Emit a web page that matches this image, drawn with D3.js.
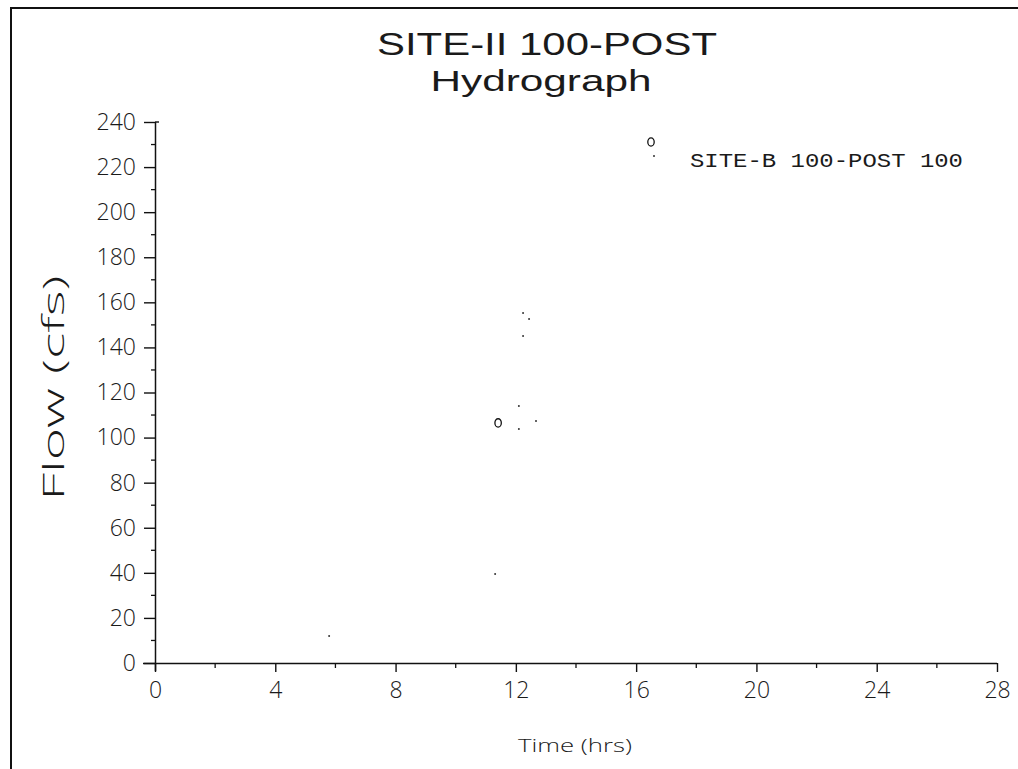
<!DOCTYPE html>
<html>
<head>
<meta charset="utf-8">
<script src="https://cdn.jsdelivr.net/npm/d3@7"></script>
<style>
  html, body { margin: 0; padding: 0; background: #fff; }
  svg { display: block; }
  text { fill: #1a1a1a; }
</style>
</head>
<body>
<svg id="chart" width="1018" height="769"></svg>
<script>
// Hydrograph series: surviving plotted points (time in hours, flow in cfs)
const seriesTime = [5.79, 11.31, 12.10, 12.10, 12.24, 12.24, 12.44, 12.67];
const seriesFlow = [12.0, 39.5, 103.8, 114.0, 145.1, 155.3, 152.6, 107.4];
// Symbol markers placed along the series
const markerTime = [11.41];
const markerFlow = [106.5];

const xTicks = [0, 4, 8, 12, 16, 20, 24, 28];
const xMinor = [2, 6, 10, 14, 18, 22, 26];
const yTicks = [0, 20, 40, 60, 80, 100, 120, 140, 160, 180, 200, 220, 240];
const yMinor = [10, 30, 50, 70, 90, 110, 130, 150, 170, 190, 210, 230];

const titleLines = ["SITE-II 100-POST", "Hydrograph"];
const xTitle = "Time (hrs)";
const yTitle = "Flow (cfs)";
const legendLabel = "SITE-B 100-POST 100";

const svg = d3.select("#chart");
const ink = "#111";

const x = d3.scaleLinear().domain([0, 28]).range([155, 997]);
const y = d3.scaleLinear().domain([0, 240]).range([663, 122]);

// page frame
svg.append("path")
  .attr("d", "M11,769 L11,8 L1018,8")
  .attr("fill", "none").attr("stroke", ink).attr("stroke-width", 2);

// titles
const tfont = "'Liberation Sans Narrow', 'Liberation Sans', Arial, sans-serif";
svg.append("text").attr("x", 547).attr("y", 55)
  .attr("text-anchor", "middle").attr("font-family", tfont).attr("font-size", 32)
  .attr("textLength", 340).attr("lengthAdjust", "spacingAndGlyphs")
  .text(titleLines[0]);
svg.append("text").attr("x", 541).attr("y", 91)
  .attr("text-anchor", "middle").attr("font-family", tfont).attr("font-size", 30)
  .attr("textLength", 221).attr("lengthAdjust", "spacingAndGlyphs")
  .text(titleLines[1]);

const lfont = "'Open Sans', 'DejaVu Sans', sans-serif";
const labelFill = "#333";

// x axis
const xAxis = svg.append("g").attr("transform", `translate(0,${y(0)})`)
  .call(d3.axisBottom(x).tickValues(xTicks).tickSize(9).tickPadding(9).tickSizeOuter(0));
xAxis.select(".domain").attr("stroke", ink).attr("stroke-width", 1.5)
  .attr("d", `M${x(0) - 12},0.5H${x(28)}`);
xAxis.selectAll(".tick line").attr("stroke", ink).attr("stroke-width", 1.4);
xAxis.selectAll(".tick text").attr("font-family", lfont).attr("font-weight", 300)
  .attr("font-size", 23).attr("fill", labelFill).attr("dy", "0.72em");
xAxis.selectAll(".minor").data(xMinor).enter().append("line")
  .attr("x1", d => x(d)).attr("x2", d => x(d)).attr("y1", 0).attr("y2", 5)
  .attr("stroke", ink).attr("stroke-width", 1.3);

// y axis
const yAxis = svg.append("g").attr("transform", `translate(${x(0)},0)`)
  .call(d3.axisLeft(y).tickValues(yTicks).tickSize(11).tickPadding(8).tickSizeOuter(0));
yAxis.select(".domain").attr("stroke", ink).attr("stroke-width", 1.5)
  .attr("d", `M0.5,${y(240)}V${y(0) + 8}`);
yAxis.selectAll(".tick line").attr("stroke", ink).attr("stroke-width", 1.4);
yAxis.selectAll(".tick text").attr("font-family", lfont).attr("font-weight", 300)
  .attr("font-size", 23).attr("fill", labelFill);
yAxis.selectAll(".minor").data(yMinor).enter().append("line")
  .attr("x1", -4).attr("x2", 0).attr("y1", d => y(d)).attr("y2", d => y(d))
  .attr("stroke", ink).attr("stroke-width", 1.3);
// small cap at the top of the y axis
yAxis.append("line").attr("x1", 0).attr("x2", 4).attr("y1", y(240)).attr("y2", y(240))
  .attr("stroke", ink).attr("stroke-width", 1.4);

// axis titles
svg.append("text").attr("x", 575).attr("y", 752)
  .attr("text-anchor", "middle").attr("font-family", lfont).attr("font-weight", 300)
  .attr("font-size", 19).attr("fill", labelFill)
  .attr("textLength", 114).attr("lengthAdjust", "spacingAndGlyphs")
  .text(xTitle);
svg.append("text")
  .attr("transform", "translate(64,388) rotate(-90)")
  .attr("text-anchor", "middle").attr("font-family", lfont).attr("font-weight", 300)
  .attr("font-size", 29).attr("fill", labelFill)
  .attr("textLength", 225).attr("lengthAdjust", "spacingAndGlyphs")
  .text(yTitle);

// series specks
const pts = seriesTime.map((t, i) => ({ t, f: seriesFlow[i] }));
svg.append("g").selectAll("circle").data(pts).enter().append("circle")
  .attr("cx", d => x(d.t)).attr("cy", d => y(d.f)).attr("r", 1)
  .attr("fill", "#333");

// symbol markers
const mk = markerTime.map((t, i) => ({ t, f: markerFlow[i] }));
svg.append("g").selectAll("ellipse").data(mk).enter().append("ellipse")
  .attr("cx", d => x(d.t)).attr("cy", d => y(d.f)).attr("rx", 3.2).attr("ry", 4.2)
  .attr("fill", "none").attr("stroke", ink).attr("stroke-width", 1.3);

// legend
const lg = svg.append("g");
lg.append("ellipse").attr("cx", 651).attr("cy", 142).attr("rx", 3.2).attr("ry", 4.2)
  .attr("fill", "none").attr("stroke", ink).attr("stroke-width", 1.3);
lg.append("circle").attr("cx", 654).attr("cy", 156).attr("r", 1).attr("fill", "#333");
lg.append("text").attr("x", 690).attr("y", 167)
  .attr("font-family", "'Liberation Mono', 'DejaVu Sans Mono', monospace").attr("font-size", 21)
  .attr("fill", labelFill)
  .attr("textLength", 273).attr("lengthAdjust", "spacingAndGlyphs")
  .text(legendLabel);
</script>
</body>
</html>
